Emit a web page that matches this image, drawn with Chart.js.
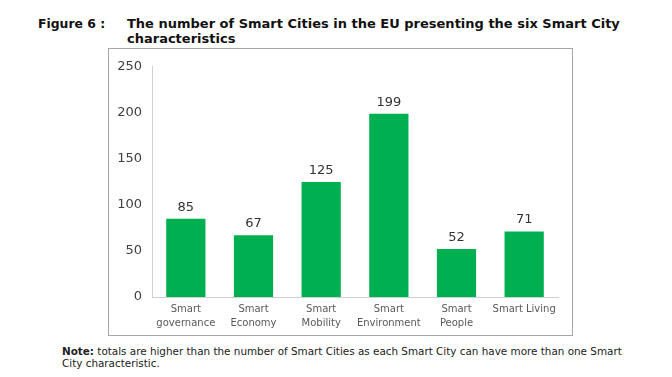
<!DOCTYPE html>
<html>
<head>
<meta charset="utf-8">
<script src="https://cdn.jsdelivr.net/npm/chart.js@4"></script>
<style>
  body { margin: 0; background: #fff; width: 672px; height: 377px; position: relative; overflow: hidden; font-family: "DejaVu Sans", Verdana, sans-serif; }
  .fig { position: absolute; left: 38px; top: 16px; font-size: 12.4px; font-weight: bold; color: #111; line-height: 15px; }
  .title { position: absolute; left: 127px; top: 16px; width: 540px; font-size: 13px; font-weight: bold; color: #111; line-height: 15px; }
  .box { position: absolute; left: 108px; top: 48px; width: 463px; height: 286px; border: 1px solid #a6a6a6; }
  .note { position: absolute; left: 62px; top: 346px; width: 600px; font-size: 10.4px; color: #222; line-height: 11.5px; }
</style>
</head>
<body>
<div class="fig">Figure 6 :</div>
<div class="title">The number of Smart Cities in the EU presenting the six Smart City<br>characteristics</div>
<div class="box"><canvas id="chart" width="463" height="286"></canvas></div>
<div class="note"><b>Note:</b> totals are higher than the number of Smart Cities as each Smart City can have more than one Smart<br>City characteristic.</div>
<script>
// categories and values
const categories = [
    ['Smart', 'governance'],
    ['Smart', 'Economy'],
    ['Smart', 'Mobility'],
    ['Smart', 'Environment'],
    ['Smart', 'People'],
    'Smart Living'
];
const cityCounts = [85, 67, 125, 199, 52, 71];
const yTicks = [0, 50, 100, 150, 200, 250];

// draw the value above each bar
const valueLabels = {
    id: 'valueLabels',
    afterDatasetsDraw(chart) {
        const ctx = chart.ctx;
        const meta = chart.getDatasetMeta(0);
        ctx.save();
        ctx.font = '13px "DejaVu Sans", Verdana, sans-serif';
        ctx.fillStyle = '#333';
        ctx.textAlign = 'center';
        ctx.textBaseline = 'bottom';
        meta.data.forEach((bar, i) => {
            ctx.fillText(cityCounts[i], bar.x, bar.y - 5);
        });
        ctx.restore();
    }
};

const ctx = document.getElementById('chart').getContext('2d');
new Chart(ctx, {
    type: 'bar',
    data: {
        labels: categories,
        datasets: [{
            data: cityCounts,
            backgroundColor: '#00b050',
            categoryPercentage: 0.58,
            barPercentage: 1
        }]
    },
    options: {
        responsive: false,
        animation: false,
        layout: { padding: { top: 14, right: 14, left: 0, bottom: 0 } },
        plugins: {
            legend: { display: false },
            tooltip: { enabled: false }
        },
        scales: {
            x: {
                grid: { display: false, drawTicks: false },
                border: { color: '#d0d0d0' },
                ticks: {
                    color: '#595959',
                    font: { family: '"DejaVu Sans", Verdana, sans-serif', size: 10, lineHeight: 1.35 },
                    padding: 6,
                    maxRotation: 0,
                    autoSkip: false
                },
                afterFit: function(axis) { axis.height = 38; }
            },
            y: {
                min: 0,
                max: 250,
                afterBuildTicks: function(axis) {
                    axis.ticks = yTicks.map(v => ({ value: v }));
                },
                grid: { display: false, drawTicks: false },
                border: { color: '#d0d0d0' },
                ticks: {
                    color: '#404040',
                    font: { family: '"DejaVu Sans", Verdana, sans-serif', size: 13 },
                    padding: 10
                },
                afterFit: function(axis) { axis.width = 43; }
            }
        }
    },
    plugins: [valueLabels]
});
</script>
</body>
</html>
